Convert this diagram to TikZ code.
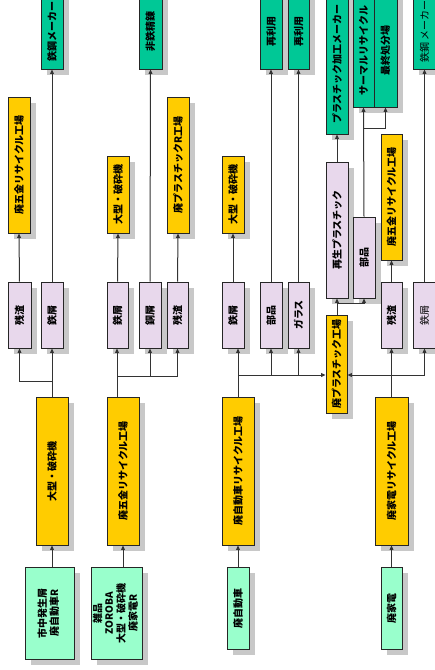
\documentclass[tikz,border=0pt]{standalone}
\usepackage{fontspec}
\setmainfont{Noto Sans CJK JP}
\usetikzlibrary{shadows,arrows.meta}
\definecolor{gl}{HTML}{99FFCC}
\definecolor{gd}{HTML}{00C896}
\definecolor{yl}{HTML}{FFCC00}
\definecolor{pk}{HTML}{E8D8EC}
\definecolor{sh}{HTML}{C8C8C8}
\newcommand\rt[1]{\rotatebox{90}{#1}}
\newcommand\mybox[7]{%
  \pgfmathsetmacro\bxcx{(#3+#5)/2}\pgfmathsetmacro\bxcy{(#4+#6)/2}%
  \pgfmathsetmacro\bxw{#5-#3}\pgfmathsetmacro\bxh{#6-#4}%
  \node[box,#1,minimum width=\bxw pt,minimum height=\bxh pt] (#2) at (\bxcx,\bxcy) {\rt{#7}};}
\begin{document}
\begin{tikzpicture}[x=1pt,y=-1pt,
  box/.style={draw=black!85, line width=0.9pt, inner sep=0pt,
    font=\fontsize{10}{11.5}\selectfont\bfseries,
    drop shadow={shadow xshift=6pt, shadow yshift=-6pt, fill=sh, opacity=1}},
  lgreen/.style={fill=gl},
  dgreen/.style={fill=gd},
  yell/.style={fill=yl},
  pink/.style={fill=pk},
  thin text/.style={font=\fontsize{10}{11.5}\selectfont\mdseries},
  conn/.style={draw=black!80, line width=1pt},
  arr/.style={conn, -{Triangle[length=4.5pt,width=3.8pt]}}]
\useasboundingbox[fill=white] (0,0) rectangle (435,670);

% ---- column 1
\mybox{lgreen}{g1}{25}{567}{74}{659}{\begin{tabular}{@{}c@{}}市中発生屑\\廃自動車R\end{tabular}}
\mybox{yell}{y1}{36}{397}{68}{545}{大型・破砕機}
\mybox{pink}{p1a}{8}{282}{31}{348}{残渣}
\mybox{pink}{p1b}{41}{282}{63}{348}{鉄屑}
\mybox{yell}{t1a}{8}{97}{30}{233}{廃五金リサイクル工場}
\mybox{dgreen}{t1b}{41}{-6}{63}{69}{鉄鋼メーカー}

% ---- column 2
\mybox{lgreen}{g2}{91}{567}{142}{659}{\begin{tabular}{@{}c@{}}雑品\\ZOROBA\\大型・破砕機\\廃家電R\end{tabular}}
\mybox{yell}{y2}{107}{397}{139}{545}{廃五金リサイクル工場}
\mybox{pink}{p2a}{107}{282}{128}{348}{鉄屑}
\mybox{pink}{p2b}{139}{282}{161}{348}{銅屑}
\mybox{pink}{p2c}{167}{282}{188}{348}{残渣}
\mybox{yell}{t2a}{107}{156}{129}{233}{大型・破砕機}
\mybox{dgreen}{t2b}{139}{-6}{162}{69}{非鉄精錬}
\mybox{yell}{t2c}{167}{97}{189}{233}{廃プラスチックR工場}

% ---- column 3
\mybox{lgreen}{g3}{227}{567}{249}{649}{廃自動車}
\mybox{yell}{y3}{222}{397}{254}{545}{廃自動車リサイクル工場}
\mybox{pink}{p3a}{222}{282}{244}{348}{鉄屑}
\mybox{pink}{p3b}{260}{282}{282}{348}{部品}
\mybox{pink}{p3c}{288}{282}{309}{348}{ガラス}
\mybox{yell}{t3a}{222}{156}{244}{233}{大型・破砕機}
\mybox{dgreen}{t3b}{260}{-6}{282}{69}{再利用}
\mybox{dgreen}{t3c}{288}{-6}{309}{69}{再利用}

% ---- plastics
\mybox{yell}{pl}{326}{315}{347}{413}{廃プラスチック工場}
\mybox{pink}{p5a}{326}{162}{348}{298}{再生プラスチック}
\mybox{pink}{p5b}{353}{217}{375}{298}{部品}
\mybox{dgreen}{t5a}{326}{-6}{348}{134}{プラスチック加工メーカー}
\mybox{dgreen}{t5b}{353}{-6}{374}{107}{サーマルリサイクル}
\mybox{dgreen}{t5c}{374}{-6}{397}{107}{最終処分場}

% ---- column 4
\mybox{lgreen}{g4}{381}{567}{402}{649}{廃家電}
\mybox{yell}{y4}{375}{397}{408}{545}{廃家電リサイクル工場}
\mybox{pink}{p4a}{381}{282}{402}{348}{残渣}
\mybox{pink,thin text}{p4b}{413}{282}{436}{348}{鉄屑}
\mybox{yell}{t4a}{381}{134}{402}{260}{廃五金リサイクル工場}
\mybox{dgreen,thin text}{t4b}{413}{-6}{436}{69}{鉄鋼\,メーカー}

% ---- junction coordinates
\coordinate (j1) at (52,381);
\coordinate (j2) at (117,376);
\coordinate (j3) at (238,375);
\coordinate (j4) at (391.5,375);
\coordinate (j5) at (337,303);
\coordinate (j6) at (364,128);

% ---- connectors column 1
\draw[arr] (g1.north -| y1.south) -- (y1.south);
\draw[conn] (y1.north) -- (j1);
\draw[arr] (j1) -- (p1b.south);
\draw[arr] (j1) -| (p1a.south);
\draw[arr] (p1a.north) -- (t1a.south);
\draw[arr] (p1b.north) -- (t1b.south);

% ---- connectors column 2
\draw[arr] (g2.north -| y2.south) -- (y2.south);
\draw[conn] (y2.north -| j2) -- (j2);
\draw[arr] (j2) -- (p2a.south -| j2);
\draw[conn] (j2) -- (j2 -| p2c.south);
\draw[arr] (j2 -| p2b.south) -- (p2b.south);
\draw[arr] (j2 -| p2c.south) -- (p2c.south);
\draw[arr] (p2a.north) -- (t2a.south);
\draw[arr] (p2b.north) -- (t2b.south);
\draw[arr] (p2c.north) -- (t2c.south);

% ---- connectors column 3
\draw[arr] (g3.north) -- (y3.south);
\draw[conn] (y3.north) -- (j3);
\draw[arr] (j3) -- (p3a.south -| j3);
\draw[arr] (j3) -- (pl.west |- j3);
\draw[arr] (j3 -| p3b.south) -- (p3b.south);
\draw[arr] (j3 -| p3c.south) -- (p3c.south);
\draw[arr] (p3a.north) -- (t3a.south);
\draw[arr] (p3b.north) -- (t3b.south);
\draw[arr] (p3c.north) -- (t3c.south);

% ---- connectors plastics
\draw[arr] (pl.north -| j5) -- (p5a.south -| j5);
\draw[arr] (j5) -| (p5b.south);
\draw[arr] (p5a.north -| j5) -- (t5a.south -| j5);
\draw[arr] (p5b.north) -- (t5b.south);
\draw[arr] (j6) -| (t5c.south);

% ---- connectors column 4
\draw[arr] (g4.north) -- (y4.south);
\draw[conn] (y4.north) -- (j4);
\draw[arr] (j4) -- (p4a.south);
\draw[arr] (j4 -| p4b.south) -- (pl.east |- j4);
\draw[arr] (j4 -| p4b.south) -- (p4b.south);
\draw[arr] (p4a.north) -- (t4a.south);
\draw[arr] (p4b.north) -- (t4b.south);
\end{tikzpicture}
\end{document}
